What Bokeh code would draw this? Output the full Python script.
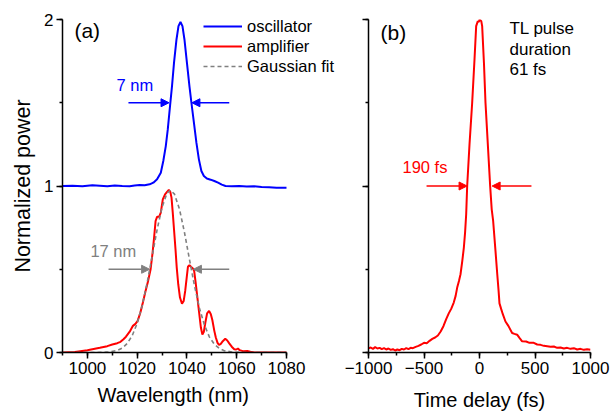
from bokeh.plotting import figure
from bokeh.layouts import row
from bokeh.models import (Range1d, SingleIntervalTicker, Label, Arrow, NormalHead,
                          Legend, LegendItem, Title)
from bokeh.embed import file_html
from bokeh.resources import INLINE

FONT = "Liberation Sans"

# ---------------- data ----------------
osc_wl = [990, 994, 998, 1002, 1005, 1008, 1011, 1014, 1017, 1019, 1021, 1023, 1025,
          1026.5, 1028, 1029.5, 1030.5, 1031.5, 1032.3, 1033.2, 1034.0, 1034.8, 1035.8,
          1036.6, 1037.4, 1038.2, 1039.0, 1040.0, 1041.0, 1041.8, 1042.8, 1043.8, 1044.8,
          1045.8, 1046.8, 1048.0, 1049.5, 1051.0, 1052.5, 1054.0, 1055.5, 1058, 1061,
          1064, 1067, 1070, 1073, 1076, 1080]
osc_pw = [1.000, 1.002, 0.998, 1.004, 1.002, 0.999, 1.003, 1.000, 0.999, 1.003, 1.006,
          1.004, 1.010, 1.020, 1.040, 1.080, 1.150, 1.240, 1.340, 1.480, 1.600, 1.740,
          1.880, 1.960, 1.985, 1.960, 1.880, 1.740, 1.600, 1.500, 1.380, 1.260, 1.160,
          1.090, 1.060, 1.045, 1.038, 1.030, 1.020, 1.008, 1.000, 0.998, 1.000, 0.997,
          0.998, 0.994, 0.993, 0.990, 0.990]

amp_wl = [990, 995, 1000, 1005, 1008, 1010, 1012, 1013.3, 1014.5, 1015.5, 1017, 1018.3,
          1019.3, 1020.2, 1021.3, 1022.3, 1023.3, 1024.4, 1025.4, 1026.2, 1026.8, 1027.4,
          1028.0, 1028.8, 1029.5, 1030.3, 1031.2, 1032.0, 1032.7, 1033.3, 1033.8, 1034.3,
          1034.8, 1035.4, 1035.9, 1036.5, 1037.2, 1038.0, 1038.7, 1039.3, 1039.9, 1040.4,
          1041.0, 1041.6, 1042.4, 1042.9, 1043.5, 1044.2, 1044.9, 1045.6, 1046.2, 1046.8,
          1047.4, 1048.1, 1048.9, 1049.6, 1050.2, 1051.0, 1051.6, 1052.3, 1052.9, 1053.6,
          1054.4, 1055.4, 1056.2, 1057.0, 1058.0, 1059.0, 1059.8, 1060.5, 1061.2, 1062.5,
          1064.2, 1065.5, 1067, 1080]
amp_pw = [0.000, 0.003, 0.014, 0.028, 0.038, 0.048, 0.056, 0.064, 0.080, 0.095, 0.125,
          0.160, 0.172, 0.190, 0.240, 0.300, 0.365, 0.430, 0.500, 0.600, 0.690, 0.790,
          0.815, 0.815, 0.840, 0.920, 0.950, 0.965, 0.976, 0.965, 0.930, 0.840, 0.740,
          0.620, 0.510, 0.410, 0.330, 0.293, 0.310, 0.370, 0.450, 0.515, 0.525, 0.515,
          0.505, 0.490, 0.420, 0.330, 0.240, 0.150, 0.108, 0.125, 0.180, 0.235, 0.250,
          0.230, 0.195, 0.130, 0.090, 0.058, 0.045, 0.052, 0.068, 0.082, 0.072, 0.055,
          0.035, 0.020, 0.018, 0.024, 0.014, 0.008, 0.009, 0.004, 0.000, 0.000]

fit_wl = [990, 1004, 1008, 1012, 1014, 1016, 1018, 1020, 1022, 1024, 1026, 1028, 1030,
          1032, 1033.4, 1035, 1037, 1039, 1041, 1043, 1045, 1047, 1049, 1051, 1053, 1055,
          1058, 1062, 1080]
fit_pw = [0.000, 0.000, 0.002, 0.012, 0.026, 0.054, 0.101, 0.175, 0.281, 0.418, 0.577,
          0.737, 0.873, 0.957, 0.975, 0.951, 0.861, 0.722, 0.560, 0.403, 0.268, 0.166,
          0.094, 0.050, 0.024, 0.011, 0.003, 0.000, 0.000]

ac_t = [-1000, -980, -960, -940, -920, -900, -880, -860, -840, -820, -800, -780, -760,
        -740, -720, -700, -680, -660, -640, -620, -600, -575, -550, -525, -500, -475,
        -450, -425, -400, -375, -350, -325, -300, -277, -255, -232, -215, -201, -185,
        -171, -155, -141, -130, -120, -111, -90, -66, -45, -30, -15, -6, 0, 9, 16, 24,
        40, 54, 75, 96, 110, 123, 144, 160, 172, 180, 195, 210, 234, 260, 294, 315, 339,
        360, 384, 420, 450, 489, 520, 550, 580, 610, 640, 670, 700, 730, 760, 790, 820,
        850, 880, 910, 940, 970, 1000]
ac_v = [0.025, 0.030, 0.022, 0.032, 0.024, 0.028, 0.020, 0.026, 0.018, 0.024, 0.016,
        0.020, 0.012, 0.018, 0.014, 0.022, 0.018, 0.026, 0.020, 0.028, 0.026, 0.034,
        0.040, 0.048, 0.058, 0.056, 0.070, 0.082, 0.090, 0.102, 0.126, 0.158, 0.200,
        0.235, 0.262, 0.300, 0.340, 0.390, 0.430, 0.470, 0.550, 0.630, 0.720, 0.830,
        1.000, 1.250, 1.500, 1.760, 1.960, 1.990, 1.985, 2.000, 1.995, 1.990, 1.960,
        1.740, 1.500, 1.250, 1.000, 0.860, 0.790, 0.610, 0.470, 0.370, 0.295, 0.262,
        0.230, 0.186, 0.160, 0.117, 0.112, 0.107, 0.088, 0.067, 0.066, 0.058, 0.058,
        0.048, 0.046, 0.040, 0.037, 0.034, 0.036, 0.028, 0.030, 0.024, 0.028, 0.022,
        0.026, 0.018, 0.022, 0.016, 0.020, 0.016]

legend_labels = ["oscillator", "amplifier", "Gaussian fit"]

BLUE = "#0000FF"
RED = "#FF0000"
GRAY = "#808080"


def style(p, show_ylabels=True):
    p.outline_line_color = None
    p.xgrid.grid_line_color = None
    p.ygrid.grid_line_color = None
    p.background_fill_color = "white"
    p.border_fill_color = "white"
    for ax in (p.xaxis[0], p.yaxis[0]):
        ax.axis_line_width = 1.5
        ax.axis_line_color = "black"
        ax.major_tick_line_width = 1.5
        ax.minor_tick_line_width = 1.5
        ax.major_tick_line_color = "black"
        ax.minor_tick_line_color = "black"
        ax.major_tick_out = 6
        ax.major_tick_in = 0
        ax.minor_tick_out = 3
        ax.minor_tick_in = 0
        ax.major_label_text_font = FONT
        ax.major_label_text_font_size = "17px"
        ax.major_label_text_color = "black"
        ax.major_label_standoff = 3
        ax.axis_label_text_font = FONT
        ax.axis_label_text_font_size = "20px"
        ax.axis_label_text_font_style = "normal"
        ax.axis_label_text_color = "black"
        ax.axis_label_standoff = 12
    p.yaxis[0].axis_label_text_font_size = "21.5px"
    p.yaxis[0].axis_label_standoff = 6
    if not show_ylabels:
        p.yaxis[0].major_label_text_color = None


# ---------------- panel (a) ----------------
# frame spans 62..336 px; the axis itself is bounded to 990..1080 nm
pa = figure(width=336, height=413, output_backend="svg", toolbar_location=None,
            x_range=Range1d(990, 1100.09), y_range=Range1d(0, 2),
            min_border_left=62, min_border_right=0, min_border_top=19,
            min_border_bottom=60)
pa.xaxis.ticker = SingleIntervalTicker(interval=20, num_minor_ticks=2)
pa.yaxis.ticker = SingleIntervalTicker(interval=1, num_minor_ticks=2)
pa.xaxis.bounds = (990, 1080)
pa.yaxis.axis_label = "Normalized power"
style(pa)
# x title centred under the bounded axis (not under the wider frame)
pa.add_layout(Title(text="Wavelength (nm)", align="left", offset=35, standoff=11,
                    text_font=FONT, text_font_size="20px", text_font_style="normal",
                    text_color="black"), "below")

r_osc = pa.line(osc_wl, osc_pw, line_color=BLUE, line_width=2)
r_amp = pa.line(amp_wl, amp_pw, line_color=RED, line_width=2)
r_fit = pa.line(fit_wl, fit_pw, line_color=GRAY, line_width=1.6, line_dash="4 3")

legend = Legend(items=[LegendItem(label=legend_labels[0], renderers=[r_osc]),
                       LegendItem(label=legend_labels[1], renderers=[r_amp]),
                       LegendItem(label=legend_labels[2], renderers=[r_fit])],
                location=(141, 276), glyph_width=39, glyph_height=20, label_height=20,
                label_standoff=5, spacing=0, padding=0, margin=0,
                border_line_color=None, background_fill_alpha=0,
                label_text_font=FONT, label_text_font_size="16.5px",
                label_text_color="black")
pa.add_layout(legend)

pa.add_layout(Label(x=994.8, y=1.865, text="(a)", text_font=FONT, text_font_size="21px",
                    text_color="black"))
pa.add_layout(Label(x=1011.7, y=1.55, text="7 nm", text_font=FONT, text_font_size="16.5px",
                    text_color=BLUE))
pa.add_layout(Label(x=1001.2, y=0.557, text="17 nm", text_font=FONT,
                    text_font_size="16.5px", text_color=GRAY))


def arrow(p, x0, x1, y, c):
    p.add_layout(Arrow(end=NormalHead(size=8, fill_color=c, line_color=c, line_width=1),
                       x_start=x0, y_start=y, x_end=x1, y_end=y,
                       line_color=c, line_width=1.5))


arrow(pa, 1016.5, 1032.8, 1.5, BLUE)
arrow(pa, 1057.0, 1042.0, 1.5, BLUE)
arrow(pa, 1008.5, 1025.0, 0.5, GRAY)
arrow(pa, 1057.0, 1042.6, 0.5, GRAY)

# ---------------- panel (b) ----------------
pb = figure(width=275, height=413, output_backend="svg", toolbar_location=None,
            x_range=Range1d(-1000, 1000), y_range=Range1d(0, 2),
            min_border_left=32, min_border_right=21, min_border_top=16,
            min_border_bottom=60)
pb.xaxis.ticker = SingleIntervalTicker(interval=500, num_minor_ticks=2)
pb.yaxis.ticker = SingleIntervalTicker(interval=1, num_minor_ticks=2)
pb.xaxis.axis_label = "Time delay (fs)"
style(pb, show_ylabels=False)

pb.line(ac_t, ac_v, line_color=RED, line_width=2)

pb.add_layout(Label(x=-892, y=1.85, text="(b)", text_font=FONT, text_font_size="21px",
                    text_color="black"))
pb.add_layout(Label(x=-694, y=1.06, text="190 fs", text_font=FONT,
                    text_font_size="16.5px", text_color=RED))
for txt, yy in (("TL pulse", 1.887), ("duration", 1.765), ("61 fs", 1.645)):
    pb.add_layout(Label(x=270, y=yy, text=txt, text_font=FONT, text_font_size="17px",
                        text_color="black"))
arrow(pb, -477, -112, 1.0, RED)
arrow(pb, 468, 114, 1.0, RED)

layout = row(pa, pb)
open("out.html", "w").write(file_html(layout, INLINE))
